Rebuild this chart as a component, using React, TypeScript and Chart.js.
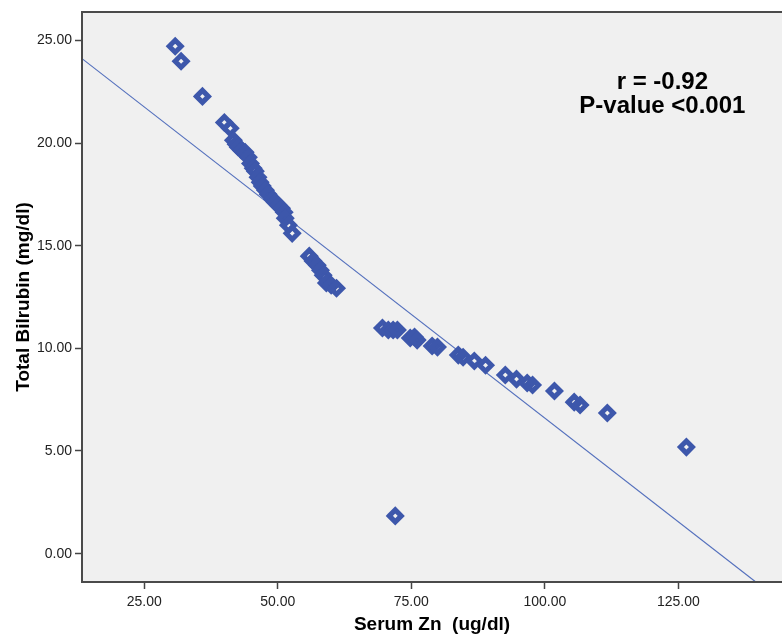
import React, { useEffect, useRef } from "react";
import { Chart, registerables } from "chart.js";

Chart.register(...registerables);

// Serum Zn (ug/dl)
const zincValues = [
  30.8, 31.9, 35.9, 40.0, 41.1, 41.7, 42.2, 42.6, 43.2, 43.9, 44.5, 44.9, 45.4, 45.8,
  46.3, 46.7, 47.1, 47.7, 48.2, 49.0, 49.5, 50.1, 50.7, 51.2, 51.4, 52.0, 52.7, 55.9,
  56.6, 57.4, 58.0, 58.5, 59.1, 60.0, 61.0, 69.6, 70.7, 71.6, 72.4, 74.8, 75.6, 76.1,
  78.9, 79.9, 83.8, 84.7, 86.8, 88.9, 92.6, 94.7, 96.7, 97.7, 101.8, 105.5, 106.6,
  111.7, 126.5, 72.0,
];
// Total Bilirubin (mg/dl)
const bilirubinValues = [
  24.71, 23.98, 22.27, 21.0, 20.72, 20.13, 19.94, 19.79, 19.65, 19.55, 19.31, 19.0,
  18.77, 18.63, 18.33, 18.09, 17.9, 17.7, 17.5, 17.26, 17.12, 16.97, 16.82, 16.63,
  16.34, 16.0, 15.6, 14.49, 14.25, 14.05, 13.8, 13.56, 13.18, 13.08, 12.93, 10.99,
  10.89, 10.89, 10.89, 10.5, 10.55, 10.4, 10.11, 10.06, 9.67, 9.57, 9.38, 9.18, 8.7,
  8.5, 8.31, 8.21, 7.92, 7.38, 7.24, 6.85, 5.19, 1.84,
];
// Fit line end points
const fitX = [13.35, 144.4];
const fitY = [24.11, -2.37];

const xTicks = [25, 50, 75, 100, 125];
const yTicks = [0, 5, 10, 15, 20, 25];
const xRange = [13.35, 144.4];
const yRange = [-1.38, 26.38];

const annotationLines = ["r = -0.92", "P-value <0.001"];
const annotationX = 122.0;
const annotationY = [22.93, 21.76];

const xTitle = "Serum Zn  (ug/dl)";
const yTitle = "Total Bilrubin (mg/dl)";

const FONT = "Arial, 'Liberation Sans', sans-serif";
const MARK = "#3D57AB";
const LINE = "#5470BD";

export default function App() {
  const ref = useRef<HTMLCanvasElement | null>(null);

  useEffect(() => {
    if (!ref.current) return;
    const points = zincValues.map((x, i) => ({ x, y: bilirubinValues[i] }));
    const fit = fitX.map((x, i) => ({ x, y: fitY[i] }));

    const framePlugin = {
      id: "frame",
      beforeDraw(chart: any) {
        const { ctx, chartArea: a } = chart;
        ctx.save();
        ctx.fillStyle = "#F0F0F0";
        ctx.fillRect(a.left, a.top, a.right - a.left, a.bottom - a.top);
        ctx.restore();
      },
      afterDraw(chart: any) {
        const { ctx, chartArea: a, scales } = chart;
        ctx.save();
        ctx.strokeStyle = "#4a4a4a";
        ctx.lineWidth = 2;
        ctx.strokeRect(a.left, a.top, a.right - a.left + 4, a.bottom - a.top);
        ctx.fillStyle = "#000";
        ctx.font = `bold 24px ${FONT}`;
        ctx.textAlign = "center";
        ctx.textBaseline = "middle";
        annotationLines.forEach((t, i) => {
          ctx.fillText(
            t,
            scales.x.getPixelForValue(annotationX),
            scales.y.getPixelForValue(annotationY[i])
          );
        });
        ctx.restore();
      },
    };

    const chart = new Chart(ref.current, {
      type: "scatter",
      data: {
        datasets: [
          {
            data: points,
            pointStyle: "rectRot",
            pointRadius: 6,
            borderWidth: 5,
            borderColor: MARK,
            backgroundColor: "rgba(0,0,0,0)",
          } as any,
          {
            data: fit,
            showLine: true,
            pointRadius: 0,
            borderWidth: 1.2,
            borderColor: LINE,
            backgroundColor: LINE,
          } as any,
        ],
      },
      options: {
        animation: false,
        responsive: false,
        events: [],
        layout: { autoPadding: false, padding: { top: 12, left: 0, right: 0, bottom: 0 } },
        plugins: { legend: { display: false }, tooltip: { enabled: false } },
        scales: {
          x: {
            type: "linear",
            min: xRange[0],
            max: xRange[1],
            afterBuildTicks: (s: any) => {
              s.ticks = xTicks.map((v) => ({ value: v }));
            },
            afterFit: (s: any) => {
              s.height = 61;
              s.paddingLeft = 0;
              s.paddingRight = 0;
            },
            grid: {
              drawOnChartArea: false,
              drawTicks: true,
              tickLength: 7,
              tickColor: "#444",
              tickWidth: 1.5,
            },
            border: { display: false },
            ticks: {
              padding: 5,
              color: "#222",
              font: { family: FONT, size: 14 },
              maxRotation: 0,
              autoSkip: false,
              callback: (v: any) => Number(v).toFixed(2),
            },
            title: {
              display: true,
              text: xTitle,
              color: "#000",
              font: { family: FONT, size: 19, weight: "bold" },
              padding: { top: 0, bottom: 7 },
            },
          },
          y: {
            type: "linear",
            min: yRange[0],
            max: yRange[1],
            afterBuildTicks: (s: any) => {
              s.ticks = yTicks.map((v) => ({ value: v }));
            },
            afterFit: (s: any) => {
              s.width = 82;
              s.paddingTop = 0;
              s.paddingBottom = 0;
            },
            grid: {
              drawOnChartArea: false,
              drawTicks: true,
              tickLength: 7,
              tickColor: "#444",
              tickWidth: 1.5,
            },
            border: { display: false },
            ticks: {
              padding: 3,
              color: "#222",
              font: { family: FONT, size: 14 },
              autoSkip: false,
              callback: (v: any) => Number(v).toFixed(2),
            },
            title: {
              display: true,
              text: yTitle,
              color: "#000",
              font: { family: FONT, size: 19, weight: "bold" },
              padding: { top: 12, bottom: 0 },
            },
          },
        },
      },
      plugins: [framePlugin],
    });
    return () => chart.destroy();
  }, []);

  return (
    <div style={{ position: "fixed", left: 0, top: 0, width: 782, height: 643, background: "#fff" }}>
      <canvas ref={ref} width={782} height={643} style={{ display: "block" }} />
    </div>
  );
}
